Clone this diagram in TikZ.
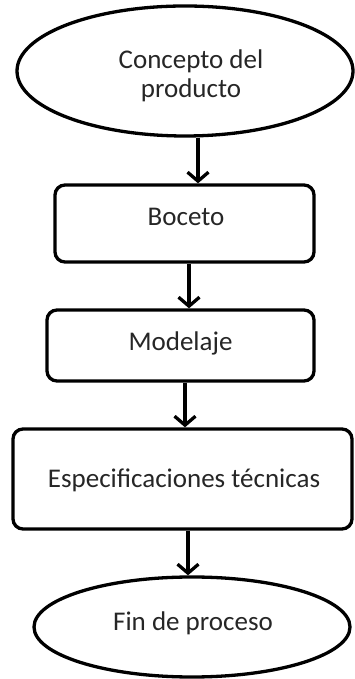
\documentclass[tikz,border=0pt]{standalone}
\usepackage{fontspec}
\setmainfont{Carlito}
\usetikzlibrary{shapes.geometric,arrows.meta}
\begin{document}
\begin{tikzpicture}[x=1pt,y=1pt,
  every node/.style={font=\fontsize{27}{29}\selectfont, text=black!85, align=center},
  oval/.style={draw=black, line width=3.3pt, ellipse, inner sep=0pt},
  stepbox/.style={draw=black, line width=3.3pt, rectangle, rounded corners=10pt, inner sep=0pt},
  arr/.style={draw=black, line width=3.3pt, -{Straight Barb[length=9pt,width=21pt]}}
]
\useasboundingbox (0,0) rectangle (355,679);
\node[oval, minimum width=336pt, minimum height=130pt] (c1) at (185,608) {};
\node (t1) at (191,603) {Concepto del\\producto};
\node[stepbox, minimum width=259pt, minimum height=77pt] (b1) at (184.5,455.5) {};
\node (t2) at (186,462) {Boceto};
\node[stepbox, minimum width=267pt, minimum height=71pt] (m1) at (180.5,333.5) {};
\node (t3) at (180.5,336) {Modelaje};
\node[stepbox, minimum width=339pt, minimum height=100pt] (s1) at (182.5,200) {};
\node (t4) at (184,199) {Especificaciones técnicas};
\node[oval, minimum width=316pt, minimum height=100pt] (f1) at (192,52) {};
\node (t5) at (193,56) {Fin de proceso};
\draw[arr] ([xshift=13pt]c1.south) -- ([xshift=13pt]c1.south |- b1.north);
\draw[arr] ([xshift=4.5pt]b1.south) -- ([xshift=4.5pt]b1.south |- m1.north);
\draw[arr] ([xshift=4.5pt]m1.south) -- ([xshift=4.5pt]m1.south |- s1.north);
\draw[arr] ([xshift=5.5pt]s1.south) -- ([xshift=5.5pt]s1.south |- f1.north);
\end{tikzpicture}
\end{document}
